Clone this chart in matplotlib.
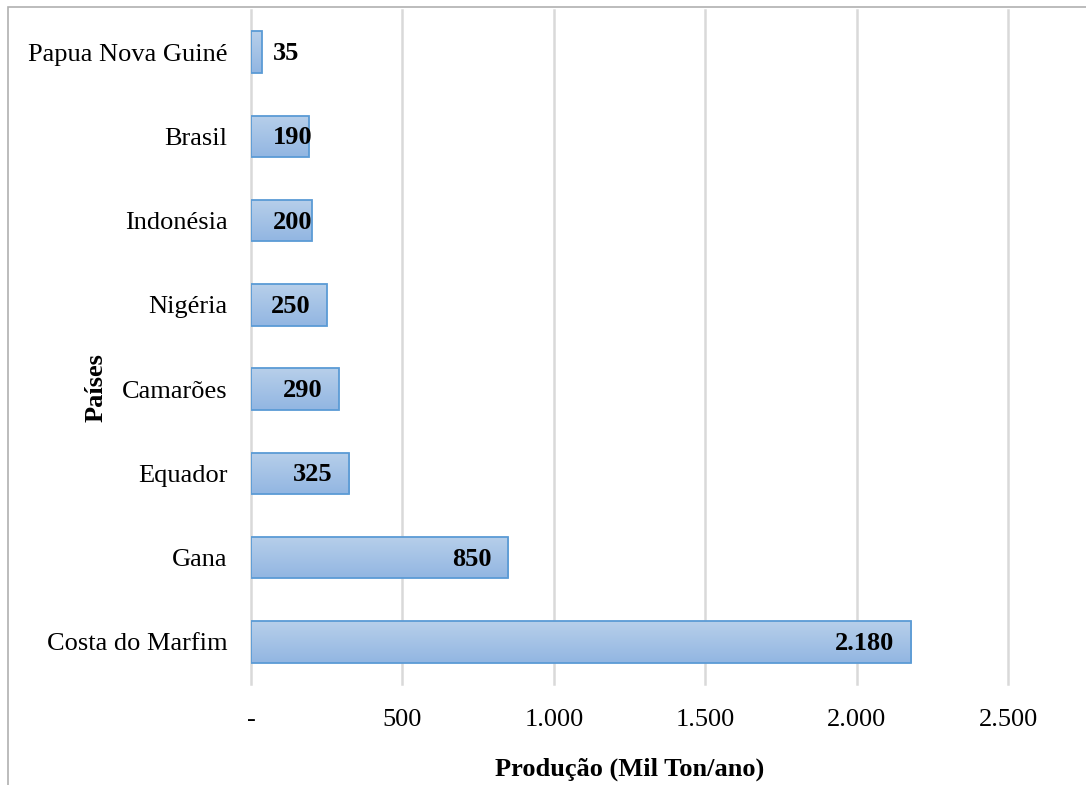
import matplotlib.pyplot as plt
import numpy as np
from matplotlib.patches import Rectangle
from matplotlib.colors import LinearSegmentedColormap

paises = ['Costa do Marfim', 'Gana', 'Equador', 'Camarões', 'Nigéria',
          'Indonésia', 'Brasil', 'Papua Nova Guiné']
producao = [2180, 850, 325, 290, 250, 200, 190, 35]
ticks = [0, 500, 1000, 1500, 2000, 2500]
tick_labels = ['-', '500', '1.000', '1.500', '2.000', '2.500']

plt.rcParams['font.family'] = ['Liberation Serif', 'DejaVu Serif']

fig = plt.figure(figsize=(10.86, 7.85), dpi=100)
ax = fig.add_axes([251/1086, 1 - 684/785, 757/1086, 674/785])

# outer frame of the chart (cut at right/bottom in the reference)
fig.patches.append(Rectangle((8/1086, -0.1), 1.2, (785 - 7)/785 + 0.1,
                             transform=fig.transFigure, fill=False,
                             edgecolor='#b0b0b0', linewidth=1.2))

y = np.arange(len(paises))
bars = ax.barh(y, producao, height=0.49, color='none',
               edgecolor='#5b9bd5', linewidth=1.3, zorder=3)

# vertical gradient fill inside every bar (light on top, darker below)
grad = np.linspace(0, 1, 64).reshape(-1, 1)
cmap = LinearSegmentedColormap.from_list('bar', ['#b7cfea', '#92b6e2'])
for b in bars:
    x0, y0 = b.get_x(), b.get_y()
    w, h = b.get_width(), b.get_height()
    im = ax.imshow(grad, extent=(x0, x0 + w, y0, y0 + h), aspect='auto',
                   cmap=cmap, zorder=2, origin='upper')
    im.set_clip_path(b)

for val, yy in zip(producao, y):
    txt = f'{val:,}'.replace(',', '.')
    if val >= 250:
        ax.annotate(txt, (val, yy), xytext=(-12, -1), textcoords='offset points',
                    ha='right', va='center', fontsize=19, fontweight='bold', zorder=4)
    else:
        ax.annotate(txt, (0, yy), xytext=(16, -1), textcoords='offset points',
                    ha='left', va='center', fontsize=19, fontweight='bold', zorder=4)

ax.set_xlim(0, 2500)
ax.set_ylim(-0.5, len(paises) - 0.5)
ax.set_xticks(ticks)
ax.set_xticklabels(tick_labels)
ax.set_yticks(y)
ax.set_yticklabels(paises)
ax.tick_params(axis='both', length=0, labelsize=19)
ax.tick_params(axis='y', pad=17)
ax.tick_params(axis='x', pad=18)
ax.grid(axis='x', color='#d9d9d9', linewidth=1.8, zorder=0)
for gl in ax.get_xgridlines():
    gl.set_clip_on(False)
ax.set_axisbelow(True)
for s in ax.spines.values():
    s.set_visible(False)

ax.set_xlabel('Produção (Mil Ton/ano)', fontsize=19, fontweight='bold', labelpad=19)
ax.set_ylabel('Países', fontsize=19, fontweight='bold')
ax.yaxis.set_label_coords(-143/757, 0.44)

fig.savefig('out.png', dpi=100)
